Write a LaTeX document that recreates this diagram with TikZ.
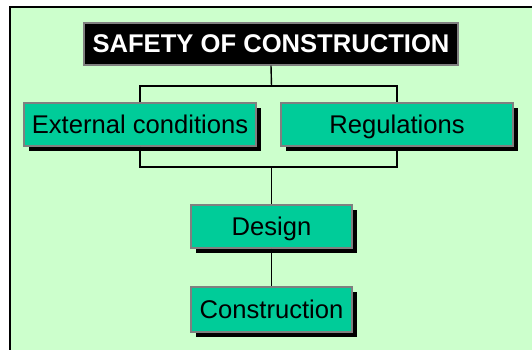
\documentclass[tikz,border=0pt]{standalone}
\usepackage{fontspec}
\setmainfont{Liberation Sans}
\usetikzlibrary{shadows}
\definecolor{panelgreen}{HTML}{CCFFCC}
\definecolor{boxgreen}{HTML}{00CC99}
\definecolor{boxedge}{HTML}{808080}
\begin{document}
\begin{tikzpicture}[x=1pt,y=-1pt,
  card/.style={draw=boxedge, line width=1.3pt, fill=boxgreen, inner sep=0pt,
    minimum height=43pt, text height=18pt, text depth=1pt,
    font=\fontsize{25.6}{30}\selectfont, text=black,
    drop shadow={shadow xshift=5pt, shadow yshift=-5pt, fill=black, opacity=1}},
  headcard/.style={draw=boxedge, line width=1.3pt, fill=black, inner sep=0pt,
    minimum width=374pt, minimum height=42pt, text height=18pt, text depth=1pt,
    text=white, font=\fontsize{25.6}{30}\selectfont\bfseries},
  link/.style={draw=black, line width=1.4pt}]
\useasboundingbox (0,0) rectangle (532,350);
\begin{scope}
  \clip (0,0) rectangle (532,350);
  \draw[fill=panelgreen, line width=1.5pt] (10,7) rectangle (540,360);
\end{scope}

\node[headcard] (title) at (271,44) {SAFETY OF CONSTRUCTION};
\node[card, minimum width=232pt] (ext) at (140,124.5) {External conditions};
\node[card, minimum width=232pt] (reg) at (397,124.5) {Regulations};
\node[card, minimum width=161pt] (design) at (271.5,226.5) {Design};
\node[card, minimum width=161pt, minimum height=45pt] (cons) at (271.5,309.5) {Construction};

\coordinate (tj) at (271.5,86);
\coordinate (bj) at (271.5,167);
\draw[link] (title.south) -- (tj);
\draw[link] (ext.north) |- (tj) -| (reg.north);
\draw[link] (ext.south) |- (bj) -| (reg.south);
\draw[link] (bj) -- (design.north);
\draw[link] (design.south) -- (cons.north);
\end{tikzpicture}
\end{document}
